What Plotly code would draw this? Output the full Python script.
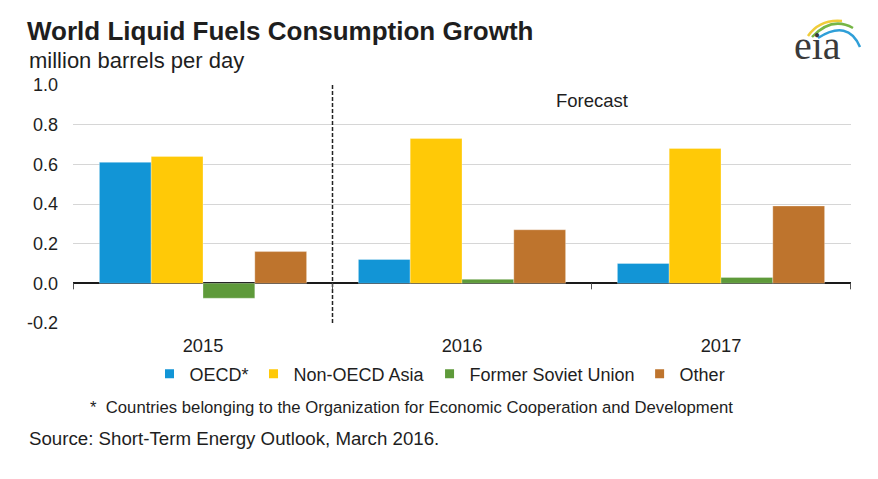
import plotly.graph_objects as go

years = ["2015", "2016", "2017"]
series_names = ["OECD*", "Non-OECD Asia", "Former Soviet Union", "Other"]
oecd = [0.61, 0.12, 0.10]
non_oecd_asia = [0.64, 0.73, 0.68]
former_soviet = [-0.075, 0.02, 0.03]
other = [0.16, 0.27, 0.39]
y_ticks = [-0.2, 0.0, 0.2, 0.4, 0.6, 0.8, 1.0]
y_tick_labels = ["-0.2", "0.0", "0.2", "0.4", "0.6", "0.8", "1.0"]

series_values = [oecd, non_oecd_asia, former_soviet, other]
colors = ["#1295d6", "#ffc907", "#5e9a3a", "#be742d"]

FONT = "Liberation Sans, Arial, sans-serif"
TXT = "#1e1e1e"

# page body margin offsets the figure by 8px
OFF = 8
W, H = 878 - OFF, 479 - OFF
L, T = 73 - OFF, 85 - OFF
R = W - (851 - OFF)
B = H - (323 - OFF)
PW = W - L - R
PH = H - T - B


def px(x):
    return (x - OFF - L) / PW


def py(y):
    return (H - B - (y - OFF)) / PH


fig = go.Figure()
for name, vals, col in zip(series_names, series_values, colors):
    fig.add_trace(go.Bar(
        x=years, y=vals, name=name, showlegend=False,
        marker=dict(color=col, line=dict(color="rgba(255,255,255,0.5)", width=0.6)),
    ))
for name, col in zip(series_names, colors):
    fig.add_trace(go.Scatter(
        x=[None], y=[None], mode="markers", name=name,
        marker=dict(symbol="square", size=9, color=col),
    ))

shapes = []
# dashed forecast divider at boundary between first and second category
shapes.append(dict(type="line", xref="x", yref="paper", x0=0.5, x1=0.5, y0=0, y1=1,
                   line=dict(color="#222222", width=1.5, dash="4px,2px")))
# boundary tick marks on zero line
for i in range(len(years) + 1):
    shapes.append(dict(type="line", xref="x", yref="y", ysizemode="pixel", yanchor=0,
                       x0=i - 0.5, x1=i - 0.5, y0=0, y1=-6,
                       line=dict(color="#555555", width=1)))


# eia logo arcs
def pth(pts):
    (x0, y0), (cx, cy), (x1, y1) = pts
    return f"M {px(x0)},{py(y0)} Q {px(cx)},{py(cy)} {px(x1)},{py(y1)}"


for pts, col in [
    (((808, 36), (820, 19), (842, 21)), "#f0cc3a"),
    (((812, 37), (832, 16), (853, 28)), "#76b646"),
    (((818, 38), (848, 19), (860, 47)), "#2f9fd8"),
]:
    shapes.append(dict(type="path", xref="paper", yref="paper", path=pth(pts),
                       line=dict(color=col, width=2.5)))

annotations = [
    dict(text="million barrels per day", xref="paper", yref="paper", x=px(27), y=py(61),
         xanchor="left", yanchor="middle", showarrow=False,
         font=dict(family=FONT, size=22, color=TXT)),
    dict(text="Forecast", xref="x", yref="y", x=1.5, y=0.92, xanchor="center", yanchor="middle",
         showarrow=False, font=dict(family=FONT, size=18.5, color=TXT)),
    dict(text="*  Countries belonging to the Organization for Economic Cooperation and Development",
         xref="paper", yref="paper", x=px(88), y=py(407), xanchor="left", yanchor="middle",
         showarrow=False, font=dict(family=FONT, size=16.7, color=TXT)),
    dict(text="Source: Short-Term Energy Outlook, March 2016.", xref="paper", yref="paper",
         x=px(27), y=py(438), xanchor="left", yanchor="middle", showarrow=False,
         font=dict(family=FONT, size=18.7, color=TXT)),
    dict(text="eia", xref="paper", yref="paper", x=px(817), y=py(46), xanchor="center",
         yanchor="middle", showarrow=False,
         font=dict(family="Liberation Serif, DejaVu Serif, serif", size=40, color="#3a3a3a")),
]

fig.update_layout(
    width=W, height=H,
    margin=dict(l=L, r=R, t=T, b=B, pad=0),
    paper_bgcolor="white", plot_bgcolor="white",
    barmode="group", bargap=0.2, bargroupgap=0,
    title=dict(text="<b>World Liquid Fuels Consumption Growth</b>", xref="container", yref="container",
               x=(27 - OFF) / W, y=1 - (22 - OFF) / H, xanchor="left", yanchor="top",
               font=dict(family=FONT, size=26, color=TXT)),
    font=dict(family=FONT, color=TXT),
    xaxis=dict(type="category", showgrid=False, showline=False, ticks="",
               tickfont=dict(family=FONT, size=18.3, color=TXT), ticklabelstandoff=10,
               zeroline=False),
    yaxis=dict(range=[-0.2, 1.0], tickvals=y_ticks, ticktext=y_tick_labels,
               showgrid=True, gridcolor="#d6d6d6", gridwidth=1,
               zeroline=True, zerolinecolor="#1a1a1a", zerolinewidth=2,
               showline=False, ticks="", ticklabelstandoff=14,
               tickfont=dict(family=FONT, size=18, color=TXT)),
    legend=dict(orientation="h", x=px(440), y=py(374), xanchor="center", yanchor="middle",
                font=dict(family=FONT, size=18, color=TXT), bgcolor="rgba(0,0,0,0)",
                itemwidth=30, tracegroupgap=0),
    shapes=shapes,
    annotations=annotations,
)

fig.write_html("out.html")
